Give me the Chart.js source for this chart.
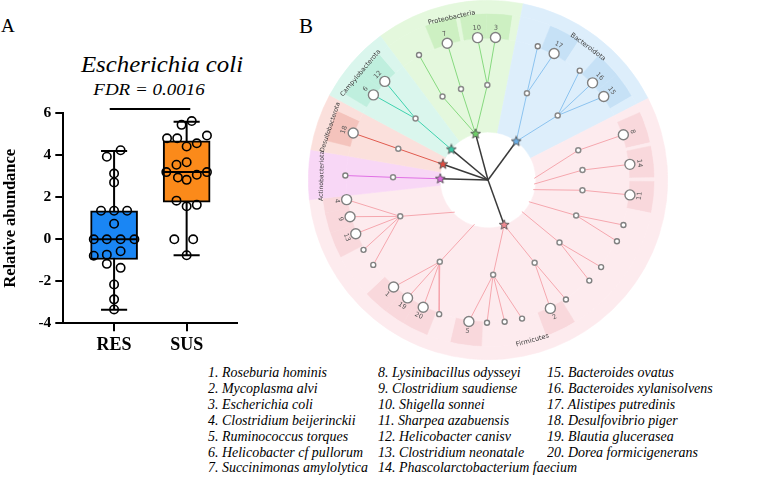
<!DOCTYPE html>
<html>
<head>
<meta charset="utf-8">
<script src="https://cdn.jsdelivr.net/npm/chart.js@4.4.1/dist/chart.umd.min.js"></script>
<style>
  body { margin: 0; width: 771px; height: 502px; overflow: hidden; background: #fff; position: relative; font-family: 'Liberation Serif', serif; color: #000; }
  canvas { position: absolute; }
  .t { position: absolute; white-space: nowrap; line-height: 1; }
  .leg { position: absolute; top: 365px; font-style: italic; font-size: 15px; line-height: 15.9px; white-space: nowrap; transform: scaleX(0.93); transform-origin: 0 0; }
</style>
</head>
<body>
<div class="t" style="left:1px;top:16px;font-size:19px">A</div>
<div class="t" style="left:299px;top:16px;font-size:21px">B</div>
<div class="t" style="left:62px;top:53px;width:200px;text-align:center;font-style:italic;font-size:23px;transform:scaleX(1.08)">Escherichia coli</div>
<div class="t" style="left:49px;top:82px;width:200px;text-align:center;font-style:italic;font-size:16.5px;transform:scaleX(1.15)">FDR = 0.0016</div>

<canvas id="boxA" width="250" height="262" style="left:0;top:100px;width:250px;height:262px"></canvas>
<canvas id="ring" width="360" height="360" style="left:307.7px;top:0.3px;width:360px;height:360px"></canvas>
<canvas id="tree" width="360" height="360" style="left:307.7px;top:0.3px;width:360px;height:360px"></canvas>

<div class="leg" id="leg1" style="left:208px"></div>
<div class="leg" id="leg2" style="left:378px"></div>
<div class="leg" id="leg3" style="left:547px"></div>

<script>
// ---------- Panel A: E. coli relative abundance ----------
const groups = ['RES', 'SUS'];
const boxQ1 = [-0.96, 1.77];
const boxMedian = [0, 3.2];
const boxQ3 = [1.36, 4.69];
const whiskerLow = [-3.36, -0.76];
const whiskerHigh = [4.21, 5.6];

const resValues = [4.24, 3.93, 3.13, 2.71, 1.36, 1.36, 1.36, 0.74, 0, 0, 0, 0, -0.78, -0.73, -0.57, -1.17, -1.36, -2.15, -2.86, -3.34];
const resJitter = [0.09, -0.1, 0, 0, -0.18, 0, 0.18, 0, -0.28, -0.1, 0.09, 0.28, -0.28, -0.1, 0.09, -0.1, 0.09, 0, 0, 0];
const susValues = [5.63, 5.45, 4.94, 4.81, 4.81, 4.57, 4.42, 3.67, 3.55, 3.2, 2.94, 2.83, 3.07, 3.2, 1.84, 1.57, 1.64, 0, 0, -0.76];
const susJitter = [0.07, -0.07, 0.28, -0.27, -0.13, 0.14, 0, 0, -0.14, -0.28, -0.12, 0, 0.14, 0.28, -0.14, 0, 0.14, -0.17, 0.09, 0];
const yTicks = [-4, -2, 0, 2, 4, 6];
const fdrBar = [0.94, 2.05]; // x-extent of the significance bar
const fdrLevel = 6.2;

// ---------- Panel B: cladogram ----------
// angles in degrees, clockwise from 12 o'clock
const phylumNames = ['Proteobacteria', 'Bacteroidota', 'Firmicutes', 'Actinobacteriota', 'Desulfobacterota', 'Campylobacterota'];
const phylumStart = [-36.8, 11.3, 63, 263.7, 279.7, 298.2];
const phylumStar = [-15.1, 36.2, 160.2, -88.5, -70.8, -50.2];
const phylumLabelAngle = [-12.6, 36.9, 164.5, -88.6, -71.5, -50];

const innerAngle  = [-28.6, -16.5, -0.4, 24.2, 47.2, -49.7, -70.8, -88.4, 71.8, 84.0, 96.2, 111.9, 131.2, 150.6, 176.9, 210.5, 247.5];
const innerPhylum = [0, 0, 0, 1, 1, 5, 4, 3, 2, 2, 2, 2, 2, 2, 2, 2, 2];
// where the branch leaves the inner rim (null = from the phylum star)
const innerBase   = [null, null, null, null, null, null, null, null, 88, 95, 102, 118, 133, null, null, 197, 226];

const leafAngle  = [-28.9, -16.6, -4.2, 3.0, 20.4, 27.6, 40.0, 47.1, 54.2, -46.3, -53.4, -70.8, -88.2,
                    71.5, 83.7, 96.0, 108.4, 115.4, 127.6, 134.8, 146.9, 154.1, 166.2, 173.3, 180.4, 187.7,
                    200.0, 207.0, 214.3, 221.4, 233.5, 240.7, 247.9, 255.1, 262.1];
const leafParent = [0, 1, 2, 2, 3, 3, 4, 4, 4, 5, 5, 6, 7,
                    8, 9, 10, 11, 11, 12, 12, 13, 13, 14, 14, 14, 14,
                    15, 15, 15, 15, 16, 16, 16, 16, 16];
const leafId     = [0, 7, 10, 3, 0, 17, 0, 16, 15, 12, 6, 18, 0,
                    8, 14, 11, 0, 0, 0, 0, 0, 2, 0, 0, 0, 5,
                    0, 20, 19, 1, 0, 0, 13, 9, 4];

const speciesNames = ['Roseburia hominis', 'Mycoplasma alvi', 'Escherichia coli', 'Clostridium beijerinckii',
  'Ruminococcus torques', 'Helicobacter cf pullorum', 'Succinimonas amylolytica', 'Lysinibacillus odysseyi',
  'Clostridium saudiense', 'Shigella sonnei', 'Sharpea azabuensis', 'Helicobacter canisv',
  'Clostridium neonatale', 'Phascolarctobacterium faecium', 'Bacteroides ovatus', 'Bacteroides xylanisolvens',
  'Alistipes putredinis', 'Desulfovibrio piger', 'Blautia glucerasea', 'Dorea formicigenerans'];

// styles
const BOX_COLORS = ['#1a86f4', '#fb8a1a'];
const SHADE = ['#e4f8dd', '#ddeefb', '#fdebee', '#f8d7f6', '#fbe0dc', '#daf6ed'];
const SHADE_HL = ['#cdf0c2', '#c6e1f6', '#f9d8dc', '#f3c2f0', '#f4c3bc', '#bfefde'];
const LINE = ['#86d97f', '#8cc3ef', '#f5a7ae', '#e070e4', '#e05a4e', '#3fd2ae'];
const STAR = ['#6fcf68', '#6aaee6', '#f08a92', '#dd66dd', '#dd4b40', '#33c9a4'];
const LABEL_SIZE = [6.6, 6.6, 6.6, 6.1, 6.1, 6.4];

const R_RIM = 48, R_STAR = 49.5, R_INNER = 98.5, R_LEAF = 148, R_NUM = 158, R_PHY = 172.5;

// ---------- legend ----------
['leg1', 'leg2', 'leg3'].forEach((id, c) => {
  const from = c * 7, to = Math.min(from + 7, speciesNames.length);
  document.getElementById(id).innerHTML = speciesNames.slice(from, to)
    .map((n, i) => `${from + i + 1}. ${n}`).join('<br>');
});

// ---------- Panel A chart ----------
function seg(x1, y1, x2, y2, order, extra) {
  return Object.assign({
    type: 'scatter', showLine: true, data: [{ x: x1, y: y1 }, { x: x2, y: y2 }],
    borderColor: '#000', borderWidth: 2, pointRadius: 0, order: order
  }, extra || {});
}

const boxSets = [];
groups.forEach((g, i) => {
  const x = i + 1;
  boxSets.push(seg(x, whiskerLow[i], x, whiskerHigh[i], 3));
  boxSets.push(seg(x - 0.18, whiskerLow[i], x + 0.18, whiskerLow[i], 1));
  boxSets.push(seg(x - 0.18, whiskerHigh[i], x + 0.18, whiskerHigh[i], 1));
  boxSets.push(seg(x - 0.32, boxMedian[i], x + 0.32, boxMedian[i], 1));
});
boxSets.push(seg(fdrBar[0], fdrLevel, fdrBar[1], fdrLevel, 1, { clip: false }));

const serifBold = size => ({ family: "'Liberation Serif', serif", size: size, weight: 'bold' });

new Chart(document.getElementById('boxA'), {
  type: 'bar',
  data: {
    datasets: [
      {
        type: 'scatter', data: resValues.map((v, i) => ({ x: 1 + resJitter[i], y: v })),
        pointRadius: 4.2, borderWidth: 1.6, borderColor: '#000', backgroundColor: 'rgba(0,0,0,0)', order: 0, clip: false
      },
      {
        type: 'scatter', data: susValues.map((v, i) => ({ x: 2 + susJitter[i], y: v })),
        pointRadius: 4.2, borderWidth: 1.6, borderColor: '#000', backgroundColor: 'rgba(0,0,0,0)', order: 0, clip: false
      },
      {
        type: 'bar', data: groups.map((g, i) => ({ x: i + 1, y: [boxQ1[i], boxQ3[i]] })),
        backgroundColor: BOX_COLORS, borderColor: '#000', borderWidth: 2, borderSkipped: false,
        barThickness: 47, order: 2
      },
      ...boxSets
    ]
  },
  options: {
    responsive: false, animation: false, events: [],
    layout: { padding: { left: 0, top: 12.7, right: 13.3, bottom: 0 } },
    plugins: { legend: { display: false }, tooltip: { enabled: false } },
    scales: {
      x: {
        type: 'linear', min: 0.3, max: 2.69, offset: false,
        afterBuildTicks: s => { s.ticks = groups.map((g, i) => ({ value: i + 1 })); },
        afterFit: s => { s.height = 38.7; },
        ticks: { callback: v => groups[v - 1] || '', color: '#000', font: serifBold(18), padding: 3, maxRotation: 0 },
        grid: { display: true, offset: false, drawOnChartArea: false, drawTicks: true, tickLength: 8, color: '#000', lineWidth: 2 },
        border: { display: true, color: '#000', width: 2 }
      },
      y: {
        min: -4, max: 6,
        afterBuildTicks: s => { s.ticks = yTicks.map(v => ({ value: v })); },
        afterFit: s => { s.width = 63.3; },
        ticks: { color: '#000', font: serifBold(15.5), padding: 4 },
        grid: { display: true, drawOnChartArea: false, drawTicks: true, tickLength: 8, color: '#000', lineWidth: 2 },
        border: { display: true, color: '#000', width: 2 },
        title: { display: true, text: 'Relative abundance', color: '#000', padding: { top: 1, bottom: 0 },
                 font: serifBold(16.5) }
      }
    }
  }
});

// ---------- Panel B background (doughnut rings) ----------
const rot0 = phylumStart[0];
const norm = a => (((a - rot0) % 360) + 360) % 360;

function phylumSpan(p) {
  const lo = norm(phylumStart[p]);
  const hi = p < phylumStart.length - 1 ? norm(phylumStart[p + 1]) : 360;
  return [lo, hi];
}

function ring(withBoxes) {
  const data = [], colors = [];
  phylumNames.forEach((name, p) => {
    const [lo, hi] = phylumSpan(p);
    let cursor = lo;
    if (withBoxes) {
      const labelled = leafAngle.map((a, i) => ({ a: norm(a), id: leafId[i], p: innerPhylum[leafParent[i]] }))
        .filter(l => l.id && l.p === p).sort((u, v) => u.a - v.a);
      labelled.forEach((l, k) => {
        let b0 = l.a - 5.5, b1 = l.a + 5.5;
        if (k > 0) b0 = Math.max(b0, (labelled[k - 1].a + l.a) / 2);
        if (k < labelled.length - 1) b1 = Math.min(b1, (labelled[k + 1].a + l.a) / 2);
        b0 = Math.max(b0, lo); b1 = Math.min(b1, hi);
        if (b0 > cursor) { data.push(b0 - cursor); colors.push(SHADE[p]); }
        data.push(b1 - b0); colors.push(SHADE_HL[p]);
        cursor = b1;
      });
    }
    if (hi > cursor) { data.push(hi - cursor); colors.push(SHADE[p]); }
  });
  return { data, colors };
}

const ringOuter = ring(false), ringBox = ring(true), ringInner = ring(false);
new Chart(document.getElementById('ring'), {
  type: 'doughnut',
  data: {
    datasets: [
      { data: ringOuter.data, backgroundColor: ringOuter.colors, borderColor: ringOuter.colors, weight: 13 },
      { data: ringBox.data, backgroundColor: ringBox.colors, borderColor: ringBox.colors, weight: 25 },
      { data: ringInner.data, backgroundColor: ringInner.colors, borderColor: ringInner.colors, weight: 94 }
    ]
  },
  options: {
    responsive: false, animation: false, events: [],
    rotation: rot0, circumference: 360, cutout: '26.7%',
    layout: { padding: 0 },
    elements: { arc: { borderWidth: 0.6, hoverOffset: 0, offset: 0 } },
    plugins: { legend: { display: false }, tooltip: { enabled: false } }
  }
});

// ---------- Panel B tree (scatter on polar positions) ----------
const polar = (a, r) => ({ x: r * Math.sin(a * Math.PI / 180), y: r * Math.cos(a * Math.PI / 180) });

function starIcon(fill) {
  const c = document.createElement('canvas');
  c.width = 12; c.height = 12;
  const g = c.getContext('2d');
  g.beginPath();
  for (let k = 0; k < 10; k++) {
    const rr = k % 2 ? 2.2 : 5.2;
    const t = -Math.PI / 2 + k * Math.PI / 5;
    g.lineTo(6 + rr * Math.cos(t), 6 + rr * Math.sin(t));
  }
  g.closePath();
  g.fillStyle = fill; g.fill();
  g.strokeStyle = '#555'; g.lineWidth = 0.9; g.stroke();
  return c;
}

const edge = (p1, p2, color, width) => ({
  type: 'scatter', showLine: true, data: [p1, p2], borderColor: color, borderWidth: width,
  pointRadius: 0, order: 3
});

const treeSets = [];
phylumStar.forEach((a, p) => treeSets.push(edge({ x: 0, y: 0 }, polar(a, R_STAR), '#3a3a3a', 1.5)));
innerAngle.forEach((a, i) => {
  const p = innerPhylum[i];
  const from = innerBase[i] === null ? polar(phylumStar[p], R_STAR) : polar(innerBase[i], R_RIM);
  treeSets.push(edge(from, polar(a, R_INNER), LINE[p], 1));
});
leafAngle.forEach((a, i) => {
  const par = leafParent[i];
  treeSets.push(edge(polar(innerAngle[par], R_INNER), polar(a, R_LEAF), LINE[innerPhylum[par]], 1));
});

treeSets.push({
  type: 'scatter', data: innerAngle.map(a => polar(a, R_INNER)),
  pointRadius: 2.5, borderWidth: 1.5, borderColor: '#8a8a8a', backgroundColor: '#fff', order: 0
});
treeSets.push({
  type: 'scatter', data: leafAngle.map(a => polar(a, R_LEAF)),
  pointRadius: leafId.map(id => id ? 5 : 2.5), borderWidth: 1.4, borderColor: '#808080', backgroundColor: '#fff', order: 0
});
treeSets.push({
  type: 'scatter', data: phylumStar.map(a => polar(a, R_STAR)),
  pointStyle: STAR.map(c => starIcon(c)), pointRadius: 5, order: 1
});

const cladeLabels = {
  id: 'cladeLabels',
  afterDatasetsDraw(chart) {
    const { ctx, scales } = chart;
    const put = (a, r, text, size, color) => {
      const p = polar(a, r);
      const rot = (a > -90 && a < 90) || a > 270 ? a : a - 180;
      ctx.save();
      ctx.translate(scales.x.getPixelForValue(p.x), scales.y.getPixelForValue(p.y));
      ctx.rotate(rot * Math.PI / 180);
      ctx.font = size + "px 'DejaVu Sans', sans-serif";
      ctx.fillStyle = color;
      ctx.textAlign = 'center';
      ctx.textBaseline = 'middle';
      ctx.fillText(text, 0, 0);
      ctx.restore();
    };
    leafAngle.forEach((a, i) => { if (leafId[i]) put(a, R_NUM, String(leafId[i]), 6.5, '#555'); });
    phylumNames.forEach((n, p) => put(phylumLabelAngle[p], R_PHY, n, LABEL_SIZE[p], '#3a3a3a'));
  }
};

new Chart(document.getElementById('tree'), {
  type: 'scatter',
  data: { datasets: treeSets },
  options: {
    responsive: false, animation: false, events: [],
    layout: { padding: 0 },
    scales: {
      x: { type: 'linear', min: -180, max: 180, display: false },
      y: { type: 'linear', min: -180, max: 180, display: false }
    },
    plugins: { legend: { display: false }, tooltip: { enabled: false } }
  },
  plugins: [cladeLabels]
});
</script>
</body>
</html>
